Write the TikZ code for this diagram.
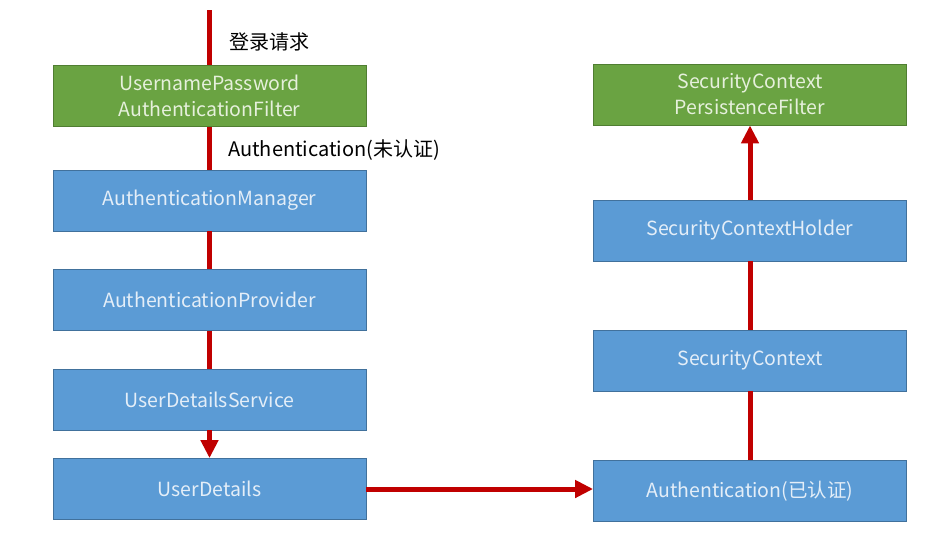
\documentclass[tikz,border=0pt]{standalone}
\usepackage{fontspec}
\setmainfont{Noto Sans CJK SC}
\usetikzlibrary{arrows.meta}
\definecolor{boxblue}{HTML}{5B9BD5}
\definecolor{boxblueb}{HTML}{41719C}
\definecolor{boxgreen}{HTML}{6AA342}
\definecolor{boxgreenb}{HTML}{507E32}
\definecolor{arrred}{HTML}{C00000}
\definecolor{txtlight}{HTML}{E4EEF8}
\definecolor{txtlightg}{HTML}{E6F0DC}
\tikzset{
  bbox/.style={draw=boxblueb, fill=boxblue, line width=0.8pt, minimum width=313pt, minimum height=61pt, inner sep=0pt, text=txtlight, font=\fontsize{19.5}{26}\selectfont, align=center},
  gbox/.style={bbox, draw=boxgreenb, fill=boxgreen, text=txtlightg},
  flow/.style={draw=arrred, line width=5pt},
  flowarr/.style={flow, -{Triangle[width=17pt,length=18pt]}},
  lbl/.style={font=\fontsize{20}{24}\selectfont, anchor=west, inner sep=0pt}
}
\begin{document}
\begin{tikzpicture}[x=1pt,y=-1pt]
\useasboundingbox (0,0) rectangle (950,547);
\node[gbox] (upaf) at (209.5,96) {UsernamePassword\\AuthenticationFilter};
\node[bbox] (am) at (209.5,200.5) {AuthenticationManager};
\node[bbox] (ap) at (209.5,300) {AuthenticationProvider};
\node[bbox] (uds) at (209.5,399.5) {UserDetailsService};
\node[bbox] (ud) at (209.5,489) {UserDetails};
\node[gbox] (scpf) at (750,94.5) {SecurityContext\\PersistenceFilter};
\node[bbox] (sch) at (750,230.5) {SecurityContextHolder};
\node[bbox] (sc) at (750,360.5) {SecurityContext};
\node[bbox] (auth) at (750,491) {Authentication(已认证)};
\coordinate (start) at (209.5,10);
\draw[flow] (start) -- (upaf.north);
\draw[flow] (upaf.south) -- (am.north);
\draw[flow] (am.south) -- (ap.north);
\draw[flow] (ap.south) -- (uds.north);
\draw[flowarr] (uds.south) -- (ud.north);
\draw[flowarr] (ud.east) -- (auth.west |- ud.east);
\draw[flow] (auth.north) -- (sc.south);
\draw[flow] (sc.north) -- (sch.south);
\draw[flowarr] (sch.north) -- (scpf.south);
\node[lbl] (l1) at (229,42) {登录请求};
\node[lbl] (l2) at (228,150) {Authentication(未认证)};
\end{tikzpicture}
\end{document}
